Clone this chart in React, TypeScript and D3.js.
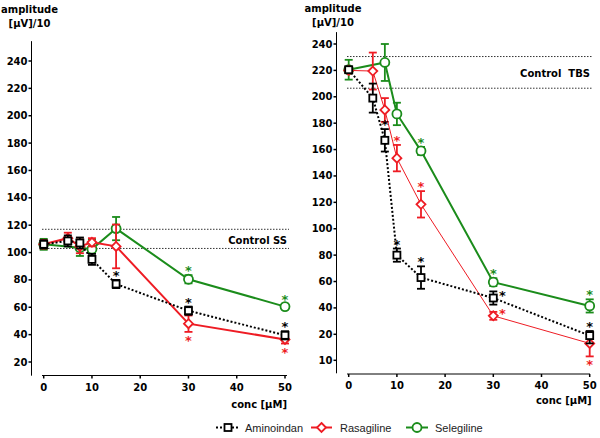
import React from "react";
import * as d3 from "d3";

// ---------- data ----------
const concAll = [0, 5, 7.5, 10, 15, 30, 50];
const concSel = [0, 7.5, 10, 15, 30, 50];

// Left panel (Control SS)
const ssAminoMean = [106, 108.5, 107, 95, 77, 57.5, 39.5];
const ssAminoErr = [3, 4, 4, 4, 3, 3, 3];
const ssRasaMean = [106, 110.5, 104.5, 107.5, 104.5, 48, 36.5];
const ssRasaErr = [3, 4, 5, 3, 16, 6, 3];
const ssSeleMean = [106, 103.5, 102.5, 117.5, 80.5, 60.5];
const ssSeleErr = [4, 6, 7, 8.5, 3, 2];
const ssControl = [117, 103];

// Right panel (Control TBS)
const tbsAminoMean = [220.5, 199, 167, 80, 63, 47.5, 19.5];
const tbsAminoErr = [2, 11, 8.5, 5, 8.5, 5, 3];
const tbsRasaMean = [220, 219.5, 190, 153.5, 118.5, 34, 16.5];
const tbsRasaErr = [2, 14, 9, 10, 10, 3, 5];
const tbsSeleMean = [220.5, 226, 187, 159, 59.5, 41.5];
const tbsSeleErr = [7.5, 14, 8.5, 3, 3, 5];
const tbsControl = [230.5, 206.5];

// significance marks: [conc, placement]
const ssAminoSig: [number, string][] = [[15, "above"], [30, "above"], [50, "above"]];
const ssRasaSig: [number, string][] = [[30, "below"], [50, "below"]];
const ssSeleSig: [number, string][] = [[30, "above"], [50, "above"]];
const tbsAminoSig: [number, string][] = [[7.5, "above"], [10, "above"], [15, "above"], [30, "right"], [50, "above"]];
const tbsRasaSig: [number, string][] = [[10, "above"], [15, "above"], [30, "right"], [50, "below"]];
const tbsSeleSig: [number, string][] = [[15, "above"], [30, "above"], [50, "above"]];

const xTicks = [0, 10, 20, 30, 40, 50];
const ssYTicks = [20, 40, 60, 80, 100, 120, 140, 160, 180, 200, 220, 240];
const tbsYTicks = [10, 20, 40, 60, 80, 100, 120, 140, 160, 180, 200, 220, 240];

const seriesNames = ["Aminoindan", "Rasagiline", "Selegiline"];

// ---------- style ----------
const RED = "#ee1c24";
const GREEN = "#1b8c1b";
const BLACK = "#000";
const BOLD = "'DejaVu Sans', Verdana, sans-serif";
const REG = "'Liberation Sans', Arial, sans-serif";

type Pt = { x: number; m: number; e: number };
const zip = (xs: number[], ms: number[], es: number[]): Pt[] =>
  xs.map((x, i) => ({ x, m: ms[i], e: es[i] }));

function Marker({ kind, cx, cy, color }: { kind: string; cx: number; cy: number; color: string }) {
  if (kind === "square")
    return <rect x={cx - 3.5} y={cy - 3.5} width={7} height={7} fill="#fff" stroke={color} strokeWidth={1.8} />;
  if (kind === "diamond")
    return (
      <path
        d={`M${cx},${cy - 4.5}L${cx + 4.5},${cy}L${cx},${cy + 4.5}L${cx - 4.5},${cy}Z`}
        fill="#fff"
        stroke={color}
        strokeWidth={1.8}
      />
    );
  return <circle cx={cx} cy={cy} r={4.5} fill="#fff" stroke={color} strokeWidth={1.8} />;
}

function Series({
  pts, x, y, color, kind, lineWidth, dash, sig, ebWidth,
}: {
  pts: Pt[]; x: (v: number) => number; y: (v: number) => number; color: string; kind: string;
  lineWidth: number; dash?: string; sig: [number, string][]; ebWidth: number;
}) {
  const line = d3.line<Pt>().x((d) => x(d.x)).y((d) => y(d.m));
  return (
    <g>
      <path d={line(pts) || ""} fill="none" stroke={color} strokeWidth={lineWidth} strokeDasharray={dash} />
      {pts.map((p, i) => {
        const cx = x(p.x);
        const y1 = y(p.m + p.e);
        const y2 = y(p.m - p.e);
        return (
          <g key={i}>
            <line x1={cx} x2={cx} y1={y1} y2={y2} stroke={color} strokeWidth={ebWidth} />
            <line x1={cx - 4} x2={cx + 4} y1={y1} y2={y1} stroke={color} strokeWidth={ebWidth} />
            <line x1={cx - 4} x2={cx + 4} y1={y2} y2={y2} stroke={color} strokeWidth={ebWidth} />
          </g>
        );
      })}
      {pts.map((p, i) => (
        <Marker key={"m" + i} kind={kind} cx={x(p.x)} cy={y(p.m)} color={color} />
      ))}
      {sig.map(([c, pos], i) => {
        const p = pts.find((q) => q.x === c)!;
        let sx = x(c);
        let sy = y(p.m);
        if (pos === "above") sy = y(p.m + p.e) - 6;
        else if (pos === "below") sy = y(p.m - p.e) + 7;
        else { sx = sx + 9; sy = y(p.m) - 4; }
        return (
          <text key={"s" + i} x={sx} y={sy + 6} textAnchor="middle" fontFamily={BOLD} fontWeight="bold" fontSize={13} fill={color}>
            *
          </text>
        );
      })}
    </g>
  );
}

function Panel({
  x, y, axisX, yTop, yBot, yTicks, xAxisY, xStart, xEnd, control, controlLabel, labelY,
  amino, rasa, sele, aminoSig, rasaSig, seleSig, rasaWidth, titleX, titleY, concY,
}: any) {
  return (
    <g>
      {/* y axis title */}
      <text x={titleX} y={titleY} textAnchor="middle" fontFamily={BOLD} fontWeight="bold" fontSize={10}>amplitude</text>
      <text x={titleX} y={titleY + 14} textAnchor="middle" fontFamily={BOLD} fontWeight="bold" fontSize={10}>[µV]/10</text>
      {/* y axis */}
      <line x1={axisX} x2={axisX} y1={y(yTop)} y2={y(yBot)} stroke="#000" strokeWidth={1} />
      {yTicks.map((t: number) => (
        <g key={t}>
          <line x1={axisX - 3} x2={axisX} y1={y(t)} y2={y(t)} stroke="#000" strokeWidth={1.5} />
          <text x={axisX - 4} y={y(t) + 3.5} textAnchor="end" fontFamily={BOLD} fontWeight="bold" fontSize={10}>{t}</text>
        </g>
      ))}
      {/* x axis */}
      <line x1={xStart} x2={xEnd} y1={xAxisY} y2={xAxisY} stroke="#000" strokeWidth={1} />
      {xTicks.map((t) => (
        <g key={t}>
          <line x1={x(t)} x2={x(t)} y1={xAxisY} y2={xAxisY + 3} stroke="#000" strokeWidth={1.5} />
          <text x={x(t)} y={xAxisY + 15} textAnchor="middle" fontFamily={BOLD} fontWeight="bold" fontSize={10}>{t}</text>
        </g>
      ))}
      <text x={x(50) + 2} y={concY} textAnchor="end" fontFamily={BOLD} fontWeight="bold" fontSize={10}>conc [µM]</text>
      {/* control band */}
      {control.map((c: number, i: number) => (
        <line key={i} x1={xStart} x2={xEnd + 2} y1={y(c)} y2={y(c)} stroke="#333" strokeWidth={1} strokeDasharray="1.5,1.5" />
      ))}
      <text x={xEnd} y={labelY} textAnchor="end" fontFamily={BOLD} fontWeight="bold" fontSize={10} style={{ whiteSpace: "pre" }}>
        {controlLabel}
      </text>
      <Series pts={sele} x={x} y={y} color={GREEN} kind="circle" lineWidth={2} sig={seleSig} ebWidth={1.8} />
      <Series pts={rasa} x={x} y={y} color={RED} kind="diamond" lineWidth={rasaWidth} sig={rasaSig} ebWidth={1.8} />
      <Series pts={amino} x={x} y={y} color={BLACK} kind="square" lineWidth={2} dash="2,2" sig={aminoSig} ebWidth={1.8} />
    </g>
  );
}

export default function App() {
  const xL = d3.scaleLinear().domain([0, 50]).range([43.7, 285]);
  const yL = d3.scaleLinear().domain([20, 240]).range([362, 61]);
  const xR = d3.scaleLinear().domain([0, 50]).range([348.7, 589.7]);
  const yR = d3.scaleLinear().domain([10, 20, 240]).range([360.3, 334.3, 44]);

  const legendY = 427.5;
  const legendItems = [
    { name: seriesNames[0], color: BLACK, kind: "square", x0: 216, x1: 240, dash: "2,2", tx: 245 },
    { name: seriesNames[1], color: RED, kind: "diamond", x0: 311, x1: 332, dash: undefined, tx: 340 },
    { name: seriesNames[2], color: GREEN, kind: "circle", x0: 406, x1: 428, dash: undefined, tx: 435 },
  ];

  return (
    <svg width={600} height={438} style={{ position: "absolute", left: 0, top: 0, background: "#fff" }}>
      <rect width={600} height={438} fill="#fff" />
      <Panel
        x={xL} y={yL} axisX={31.5} yTop={254.5} yBot={10} yTicks={ssYTicks} xAxisY={375.5}
        xStart={42} xEnd={287} control={ssControl} controlLabel="Control SS" labelY={244}
        amino={zip(concAll, ssAminoMean, ssAminoErr)} rasa={zip(concAll, ssRasaMean, ssRasaErr)}
        sele={zip(concSel, ssSeleMean, ssSeleErr)} aminoSig={ssAminoSig} rasaSig={ssRasaSig} seleSig={ssSeleSig}
        rasaWidth={2} titleX={29.5} titleY={13} concY={408}
      />
      <Panel
        x={xR} y={yR} axisX={336.5} yTop={249} yBot={5} yTicks={tbsYTicks} xAxisY={374}
        xStart={347} xEnd={590} control={tbsControl} controlLabel={"Control  TBS"} labelY={77}
        amino={zip(concAll, tbsAminoMean, tbsAminoErr)} rasa={zip(concAll, tbsRasaMean, tbsRasaErr)}
        sele={zip(concSel, tbsSeleMean, tbsSeleErr)} aminoSig={tbsAminoSig} rasaSig={tbsRasaSig} seleSig={tbsSeleSig}
        rasaWidth={1} titleX={333} titleY={12} concY={404}
      />
      {legendItems.map((it) => (
        <g key={it.name}>
          <line x1={it.x0} x2={it.x1} y1={legendY} y2={legendY} stroke={it.color} strokeWidth={2} strokeDasharray={it.dash} />
          <Marker kind={it.kind} cx={(it.x0 + it.x1) / 2} cy={legendY} color={it.color} />
          <text x={it.tx} y={legendY + 4} fontFamily={REG} fontSize={11} fill="#222">{it.name}</text>
        </g>
      ))}
    </svg>
  );
}
